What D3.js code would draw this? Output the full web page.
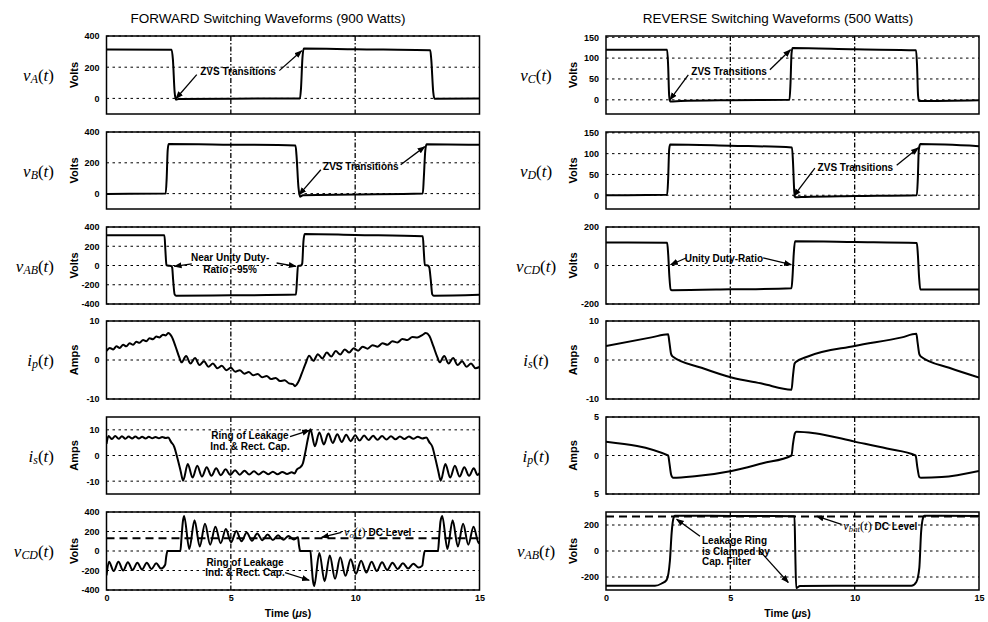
<!DOCTYPE html>
<html>
<head>
<meta charset="utf-8">
<script src="https://cdn.jsdelivr.net/npm/d3@7"></script>
<style>
  body { margin: 0; background: #fff; }
  svg { display: block; font-family: "Liberation Sans", Arial, sans-serif; }
  .tick text { font-family: "Liberation Sans", Arial, sans-serif; font-size: 9px; font-weight: bold; fill: #000; }
  .note { font-size: 10px; font-weight: bold; }
  .math { font-family: "Liberation Serif", "DejaVu Serif", serif; }
</style>
</head>
<body>
<svg id="chart" width="988" height="622"></svg>
<script>
// time axis (microseconds)
const timeDomain = [0, 15];
const timeTicks = [0, 5, 10, 15];
const timeGrid = [5, 10];

// FORWARD (900 W) waveforms, [t in us, value]
const vA = [[0, 313], [2.62, 312], [2.67, 250], [2.74, 40], [2.79, -8], [2.9, -4], [5, -2], [7.78, 0], [7.82, 60],
  [7.88, 260], [7.93, 320], [10, 315], [13.02, 309], [13.06, 250], [13.14, 40], [13.19, -2], [15, 0]];

const vB = [[0, -2], [2.38, 0], [2.42, 100], [2.46, 280], [2.5, 322], [5, 318], [7.6, 313], [7.64, 250], [7.72, 40],
  [7.78, -20], [7.9, -10], [10, -6], [12.72, 0], [12.76, 100], [12.82, 280], [12.87, 320], [15, 317]];

const vABfwd = [[0, 314], [2.33, 313], [2.37, 150], [2.41, 5], [2.45, 0], [2.6, -5], [2.64, -20], [2.68, -150],
  [2.74, -300], [2.8, -314], [5, -310], [7.62, -302], [7.66, -150], [7.7, -5], [7.82, 0], [7.87, 20], [7.92, 250],
  [7.97, 328], [10, 318], [12.72, 305], [12.76, 150], [12.8, 5], [12.92, 0], [12.98, -20], [13.04, -150],
  [13.1, -300], [13.16, -314], [15, -305]];

const ipFwd = [[0, 2.3], [0.13, 3.1], [0.27, 2.7], [0.4, 3.5], [0.53, 3.1], [0.67, 3.9], [0.8, 3.5], [0.93, 4.3],
  [1.07, 3.9], [1.2, 4.7], [1.33, 4.4], [1.47, 5.1], [1.6, 4.8], [1.73, 5.6], [1.87, 5.3], [2.0, 6.0], [2.13, 5.8],
  [2.27, 6.5], [2.38, 6.3], [2.48, 6.9], [2.62, 6.0], [2.78, 3.4], [2.92, 0.8], [3.02, -0.6], [3.2, 1.0],
  [3.38, -0.9], [3.56, 0.5], [3.74, -1.3], [3.92, -0.3], [4.1, -1.7], [4.28, -0.9], [4.46, -2.1], [4.64, -1.5],
  [4.82, -2.6], [5.0, -2.0], [5.18, -3.0], [5.36, -2.6], [5.54, -3.5], [5.72, -3.1], [5.9, -3.9], [6.08, -3.6],
  [6.26, -4.4], [6.44, -4.1], [6.62, -4.9], [6.8, -4.6], [6.98, -5.4], [7.16, -5.2], [7.34, -6.0], [7.5, -6.2],
  [7.58, -6.7], [7.7, -5.8], [7.85, -3.5], [8.0, -1.0], [8.15, 1.1], [8.32, -0.2], [8.5, 1.5], [8.68, 0.4],
  [8.86, 1.9], [9.04, 0.9], [9.22, 2.3], [9.4, 1.4], [9.58, 2.7], [9.76, 1.9], [9.94, 3.0], [10.12, 2.4],
  [10.3, 3.4], [10.5, 2.9], [10.7, 3.8], [10.9, 3.4], [11.1, 4.3], [11.3, 3.9], [11.5, 4.8], [11.7, 4.5],
  [11.9, 5.4], [12.1, 5.1], [12.3, 5.9], [12.5, 5.8], [12.7, 6.4], [12.84, 6.9], [12.98, 6.2], [13.14, 3.6],
  [13.3, 0.8], [13.4, -0.6], [13.58, 1.0], [13.76, -0.9], [13.94, 0.5], [14.12, -1.3], [14.3, -0.3],
  [14.48, -1.7], [14.66, -0.9], [14.84, -2.1], [15, -1.8]];

const isFwd = [[0, 4.5], [0.08, 7.6], [0.22, 6.4], [0.35, 7.6], [0.49, 6.5], [0.62, 7.5], [0.76, 6.5], [0.89, 7.4],
  [1.03, 6.6], [1.16, 7.4], [1.3, 6.6], [1.43, 7.3], [1.57, 6.6], [1.7, 7.3], [1.84, 6.7], [1.97, 7.2], [2.11, 6.7],
  [2.24, 7.2], [2.38, 6.8], [2.48, 7.0], [2.6, 5.2], [2.72, 3.5], [2.85, -1], [2.98, -6], [3.08, -9.8],
  [3.27, -3.3], [3.46, -8.6], [3.65, -4.0], [3.84, -8.2], [4.03, -4.6], [4.22, -7.9], [4.41, -5.0], [4.6, -7.7],
  [4.79, -5.4], [4.98, -7.6], [5.17, -5.7], [5.36, -7.5], [5.55, -5.9], [5.74, -7.4], [5.93, -6.1], [6.12, -7.4],
  [6.31, -6.2], [6.5, -7.3], [6.69, -6.3], [6.88, -7.3], [7.07, -6.4], [7.26, -7.2], [7.45, -6.5], [7.56, -7.0],
  [7.66, -5.4], [7.8, -4.5], [7.9, -3.0], [8.0, 1.5], [8.1, 6.5], [8.2, 10.2], [8.38, 3.6], [8.56, 9.0],
  [8.74, 4.3], [8.92, 8.6], [9.1, 4.9], [9.28, 8.3], [9.46, 5.3], [9.64, 8.1], [9.82, 5.6], [10.0, 7.9],
  [10.18, 5.8], [10.36, 7.8], [10.54, 6.0], [10.72, 7.7], [10.9, 6.1], [11.08, 7.6], [11.26, 6.2], [11.44, 7.5],
  [11.62, 6.3], [11.8, 7.4], [11.98, 6.4], [12.16, 7.4], [12.34, 6.5], [12.52, 7.3], [12.7, 6.6], [12.86, 7.0],
  [12.98, 5.2], [13.1, 3.5], [13.22, -1], [13.34, -6], [13.44, -9.8], [13.63, -3.3], [13.82, -8.6],
  [14.01, -4.0], [14.2, -8.2], [14.39, -4.6], [14.58, -7.9], [14.77, -5.0], [14.92, -7.6], [15, -6.8]];

const vCDfwd = [[0, -250], [0.1, -110], [0.29, -205], [0.48, -110], [0.67, -200], [0.86, -115], [1.05, -195],
  [1.24, -120], [1.43, -190], [1.62, -120], [1.81, -185], [2.0, -125], [2.19, -180], [2.36, -140], [2.4, -60],
  [2.45, 0], [2.97, 0], [3.02, 150], [3.07, 300], [3.12, 360], [3.33, 20], [3.54, 315], [3.75, 45], [3.96, 280],
  [4.17, 65], [4.38, 250], [4.59, 80], [4.8, 225], [5.01, 90], [5.22, 205], [5.43, 100], [5.64, 190], [5.85, 105],
  [6.06, 180], [6.27, 110], [6.48, 170], [6.69, 112], [6.9, 162], [7.11, 115], [7.32, 155], [7.53, 118],
  [7.7, 140], [7.74, 60], [7.79, 0], [8.2, 0], [8.25, -150], [8.3, -300], [8.35, -360], [8.56, -20],
  [8.77, -310], [8.98, -45], [9.19, -285], [9.4, -65], [9.61, -255], [9.82, -85], [10.03, -235], [10.24, -100],
  [10.45, -220], [10.66, -110], [10.87, -205], [11.08, -115], [11.29, -195], [11.5, -120], [11.71, -185],
  [11.92, -125], [12.13, -180], [12.34, -130], [12.55, -170], [12.7, -150], [12.75, -60], [12.8, 0], [13.33, 0],
  [13.38, 150], [13.43, 300], [13.5, 360], [13.71, 20], [13.92, 315], [14.13, 45], [14.34, 280], [14.55, 65],
  [14.76, 250], [14.97, 80], [15, 100]];
const voDcLevel = 130;

// REVERSE (500 W) waveforms
const vC = [[0, 120], [2.46, 120], [2.5, 80], [2.54, 10], [2.58, -4], [3, -3], [5, -1], [7.38, 0], [7.42, 40],
  [7.46, 110], [7.5, 124], [10, 121], [12.47, 119], [12.51, 80], [12.55, 10], [12.59, -3], [15, -1]];

const vD = [[0, 0], [2.46, 1], [2.5, 40], [2.54, 110], [2.58, 122], [5, 119], [7.48, 115], [7.52, 80], [7.57, 10],
  [7.61, -5], [8, -4], [10, -2], [12.5, 0], [12.54, 40], [12.58, 110], [12.64, 123], [15, 118]];

const vCDrev = [[0, 120], [2.46, 118], [2.5, 60], [2.55, -60], [2.6, -125], [2.65, -128], [5, -124], [7.46, -118],
  [7.5, -60], [7.55, 60], [7.6, 126], [10, 122], [12.5, 117], [12.54, 60], [12.59, -60], [12.64, -125],
  [15, -125]];

const isRev = [[0, 3.6], [1.83, 5.8], [2.5, 6.6], [2.55, 4.5], [2.62, 1.5], [2.68, 0.9], [3.84, -2.0], [5.05, -4.5],
  [6.3, -6.1], [7.46, -7.6], [7.52, -4], [7.58, -1], [7.62, -0.6], [8.12, 0.9], [10, 3.6], [11.9, 5.8],
  [12.48, 6.7], [12.53, 4.5], [12.6, 1.5], [12.66, 0.9], [13.8, -2.0], [15, -4.5]];

const ipRev = [[0, 1.8], [2.5, 0], [2.55, -1], [2.62, -2.5], [2.7, -2.9], [3.57, -2.7], [5.05, -2.0], [6.3, -1.0],
  [7.46, 0], [7.52, 1.5], [7.6, 2.9], [7.66, 3.1], [8.4, 2.9], [10, 1.8], [11.3, 0.9], [12.45, 0], [12.52, -1.5],
  [12.6, -2.8], [12.67, -2.9], [13.5, -2.8], [15, -2.0]];
const ipRevTickLabels = ["5", "0", "5"];

const vABrev = [[0, -268], [1.97, -268], [2.24, -250], [2.44, -222], [2.57, -75], [2.64, 140], [2.71, 250],
  [2.77, 272], [5, 270], [7.58, 268], [7.61, 0], [7.65, -285], [7.8, -270], [10, -268], [12.28, -268],
  [12.48, -238], [12.6, -130], [12.67, 140], [12.75, 255], [12.8, 272], [15, 270]];
const vbatDcLevel = 266;

// layout
const rowTops = [36, 132, 227, 321, 417, 512];
const rowBottoms = [114, 209, 304, 399, 494, 590];
const colRanges = [[106.5, 479.5], [606, 979]];

const panels = [
  { col: 0, row: 0, data: vA, domain: [-100, 400], ticks: [0, 200, 400], unit: "Volts", label: ["v", "A"],
    notes: [{ lines: ["ZVS Transitions"], t: 5.29, v: 174 }],
    arrows: [[3.63, 152, 2.79, -2], [6.95, 178, 7.85, 306]] },
  { col: 0, row: 1, data: vB, domain: [-100, 400], ticks: [0, 200, 400], unit: "Volts", label: ["v", "B"],
    notes: [{ lines: ["ZVS Transitions"], t: 10.23, v: 177 }],
    arrows: [[8.62, 155, 7.75, -7], [11.83, 188, 12.8, 305]] },
  { col: 0, row: 2, data: vABfwd, domain: [-400, 400], ticks: [-400, -200, 0, 200, 400], unit: "Volts", label: ["v", "AB"],
    notes: [{ lines: ["Near Unity Duty-", "Ratio ~95%"], t: 4.97, v: 88, lh: 12 }],
    arrows: [[3.43, 16, 2.73, -8], [6.84, 26, 7.62, -8]] },
  { col: 0, row: 3, data: ipFwd, domain: [-10, 10], ticks: [-10, 0, 10], unit: "Amps", label: ["i", "p"],
    notes: [], arrows: [] },
  { col: 0, row: 4, data: isFwd, domain: [-15, 15], ticks: [-10, 0, 10], unit: "Amps", label: ["i", "s"],
    notes: [{ lines: ["Ring of Leakage", "Ind. & Rect. Cap."], t: 5.77, v: 8.0, lh: 11 }],
    arrows: [[7.38, 7.4, 8.16, 9.8]] },
  { col: 0, row: 5, data: vCDfwd, domain: [-400, 400], ticks: [-400, -200, 0, 200, 400], unit: "Volts", label: ["v", "CD"],
    dc: voDcLevel,
    notes: [{ lines: ["Ring of Leakage", "Ind. & Rect. Cap."], t: 5.57, v: -110, lh: 10, size: 9 }],
    mathNote: { base: "v", sub: "o", t: 9.55, v: 198 },
    arrows: [[9.45, 192, 8.65, 140], [7.18, -223, 8.15, -300]] },
  { col: 1, row: 0, data: vC, domain: [-34, 153], ticks: [0, 50, 100, 150], unit: "Volts", label: ["v", "C"],
    notes: [{ lines: ["ZVS Transitions"], t: 4.95, v: 68 }],
    arrows: [[3.31, 60, 2.57, 0], [6.59, 72, 7.42, 120]] },
  { col: 1, row: 1, data: vD, domain: [-33, 152], ticks: [0, 50, 100, 150], unit: "Volts", label: ["v", "D"],
    notes: [{ lines: ["ZVS Transitions"], t: 10.03, v: 67 }],
    arrows: [[8.4, 65, 7.55, -2], [11.69, 72, 12.56, 114]] },
  { col: 1, row: 2, data: vCDrev, domain: [-200, 200], ticks: [-200, 0, 200], unit: "Volts", label: ["v", "CD"],
    notes: [{ lines: ["Unity Duty-Ratio"], t: 4.74, v: 39 }],
    arrows: [[3.22, 39, 2.6, 4], [6.32, 39, 7.45, 4]] },
  { col: 1, row: 3, data: isRev, domain: [-10, 10], ticks: [-10, 0, 10], unit: "Amps", label: ["i", "s"],
    notes: [], arrows: [] },
  { col: 1, row: 4, data: ipRev, domain: [-5, 5], ticks: [-5, 0, 5], tickLabels: ipRevTickLabels, unit: "Amps", label: ["i", "p"],
    notes: [], arrows: [] },
  { col: 1, row: 5, data: vABrev, domain: [-300, 300], ticks: [-200, 0, 200], unit: "Volts", label: ["v", "AB"],
    dc: vbatDcLevel,
    notes: [{ lines: ["Leakage Ring", "is Clamped by", "Cap. Filter"], t: 3.86, v: 81, lh: 10.5, size: 8.5, anchor: "start" }],
    mathNote: { base: "v", sub: "bat", t: 9.54, v: 192 },
    arrows: [[3.78, 113, 2.84, 245], [6.15, 8, 7.33, -242], [9.47, 205, 8.47, 268]] }
];

const svg = d3.select("#chart");
const defs = svg.append("defs");

defs.append("marker")
  .attr("id", "arrow")
  .attr("viewBox", "0 0 10 10")
  .attr("refX", 9)
  .attr("refY", 5)
  .attr("markerUnits", "userSpaceOnUse")
  .attr("markerWidth", 8)
  .attr("markerHeight", 8)
  .attr("orient", "auto")
  .append("path")
  .attr("d", "M0,1.2L10,5L0,8.8z")
  .attr("fill", "#000");

function appendMath(textSel, base, sub, size) {
  textSel.append("tspan").attr("class", "math").attr("font-style", "italic").attr("font-size", size).text(base);
  textSel.append("tspan").attr("class", "math").attr("font-style", "italic").attr("font-size", size * 0.7)
    .attr("dy", size * 0.24).text(sub);
  textSel.append("tspan").attr("class", "math").attr("font-size", size).attr("dy", -size * 0.24).text("(");
  textSel.append("tspan").attr("class", "math").attr("font-style", "italic").attr("font-size", size).text("t");
  textSel.append("tspan").attr("class", "math").attr("font-size", size).text(")");
}

panels.forEach((p, i) => {
  const [x0, x1] = colRanges[p.col];
  const top = rowTops[p.row];
  const bottom = rowBottoms[p.row];
  const x = d3.scaleLinear().domain(timeDomain).range([x0, x1]);
  const y = d3.scaleLinear().domain(p.domain).range([bottom, top]);
  const g = svg.append("g");

  defs.append("clipPath").attr("id", `clip-${i}`)
    .append("rect").attr("x", x0).attr("y", top).attr("width", x1 - x0).attr("height", bottom - top);

  // grid
  g.selectAll(".hgrid")
    .data(p.ticks)
    .join("line")
    .attr("x1", x0).attr("x2", x1)
    .attr("y1", (d) => y(d)).attr("y2", (d) => y(d))
    .attr("stroke", "#000").attr("stroke-width", 1)
    .attr("stroke-dasharray", "2.5,3.5");

  g.selectAll(".vgrid")
    .data(timeGrid)
    .join("line")
    .attr("x1", (d) => x(d)).attr("x2", (d) => x(d))
    .attr("y1", top).attr("y2", bottom)
    .attr("stroke", "#000").attr("stroke-width", 1.3)
    .attr("stroke-dasharray", "5,2,1.5,2");

  const straight = d3.line().x((d) => x(d[0])).y((d) => y(d[1]));
  const smooth = d3.line().x((d) => x(d[0])).y((d) => y(d[1])).curve(d3.curveMonotoneX);

  if (p.dc !== undefined) {
    g.append("path")
      .datum([[timeDomain[0], p.dc], [timeDomain[1], p.dc]])
      .attr("d", straight)
      .attr("stroke", "#000").attr("stroke-width", 2)
      .attr("stroke-dasharray", "8,5");
  }

  g.append("path")
    .datum(p.data)
    .attr("clip-path", `url(#clip-${i})`)
    .attr("d", smooth)
    .attr("fill", "none")
    .attr("stroke", "#000")
    .attr("stroke-width", 2)
    .attr("stroke-linejoin", "round");

  g.append("rect")
    .attr("x", x0).attr("y", top)
    .attr("width", x1 - x0).attr("height", bottom - top)
    .attr("fill", "none").attr("stroke", "#000").attr("stroke-width", 1.5);

  g.append("g")
    .attr("transform", `translate(${x0},0)`)
    .call(d3.axisLeft(y).tickValues(p.ticks).tickSize(0).tickPadding(7)
      .tickFormat((d, k) => (p.tickLabels ? p.tickLabels[k] : String(d))))
    .call((a) => a.select(".domain").remove());

  if (p.row === rowTops.length - 1) {
    g.append("g")
      .attr("transform", `translate(0,${bottom})`)
      .call(d3.axisBottom(x).tickValues(timeTicks).tickSize(0).tickPadding(5).tickFormat((d) => String(d)))
      .call((a) => a.select(".domain").remove());

    const xl = g.append("text")
      .attr("x", (x0 + x1) / 2 - 5).attr("y", 613)
      .attr("text-anchor", "middle").attr("dominant-baseline", "central")
      .attr("font-size", 10.5).attr("font-weight", "bold");
    xl.append("tspan").text("Time (");
    xl.append("tspan").attr("font-style", "italic").text("\u03bc");
    xl.append("tspan").text("s)");
  }

  const midY = (top + bottom) / 2;
  g.append("text")
    .attr("transform", `translate(${x0 - 33},${midY}) rotate(-90)`)
    .attr("text-anchor", "middle").attr("dominant-baseline", "central")
    .attr("font-size", 11).attr("font-weight", "bold")
    .text(p.unit);

  const lab = g.append("text")
    .attr("x", p.col === 0 ? 54 : 536)
    .attr("y", midY)
    .attr("text-anchor", p.col === 0 ? "end" : "middle")
    .attr("dominant-baseline", "central");
  appendMath(lab, p.label[0], p.label[1], 17);

  // annotations
  p.notes.forEach((n) => {
    const size = n.size || 10;
    const lh = n.lh || 11;
    const t = g.append("text")
      .attr("class", "note")
      .attr("font-size", size)
      .attr("text-anchor", n.anchor || "middle")
      .attr("dominant-baseline", "central");
    n.lines.forEach((s, k) => {
      t.append("tspan").attr("x", x(n.t)).attr("y", y(n.v) + k * lh).text(s);
    });
  });

  if (p.mathNote) {
    const m = p.mathNote;
    const t = g.append("text")
      .attr("x", x(m.t)).attr("y", y(m.v))
      .attr("dominant-baseline", "central");
    appendMath(t, m.base, m.sub, 12.5);
    t.append("tspan").attr("font-size", 10).attr("font-weight", "bold").text(" DC Level");
  }

  g.selectAll(".arrow")
    .data(p.arrows)
    .join("line")
    .attr("x1", (d) => x(d[0])).attr("y1", (d) => y(d[1]))
    .attr("x2", (d) => x(d[2])).attr("y2", (d) => y(d[3]))
    .attr("stroke", "#000").attr("stroke-width", 1.3)
    .attr("marker-end", "url(#arrow)");
});

svg.append("text")
  .attr("x", 268).attr("y", 18)
  .attr("text-anchor", "middle").attr("dominant-baseline", "central")
  .attr("font-size", 13.5)
  .text("FORWARD Switching Waveforms (900 Watts)");

svg.append("text")
  .attr("x", 778).attr("y", 18)
  .attr("text-anchor", "middle").attr("dominant-baseline", "central")
  .attr("font-size", 13.5)
  .text("REVERSE Switching Waveforms (500 Watts)");
</script>
</body>
</html>
